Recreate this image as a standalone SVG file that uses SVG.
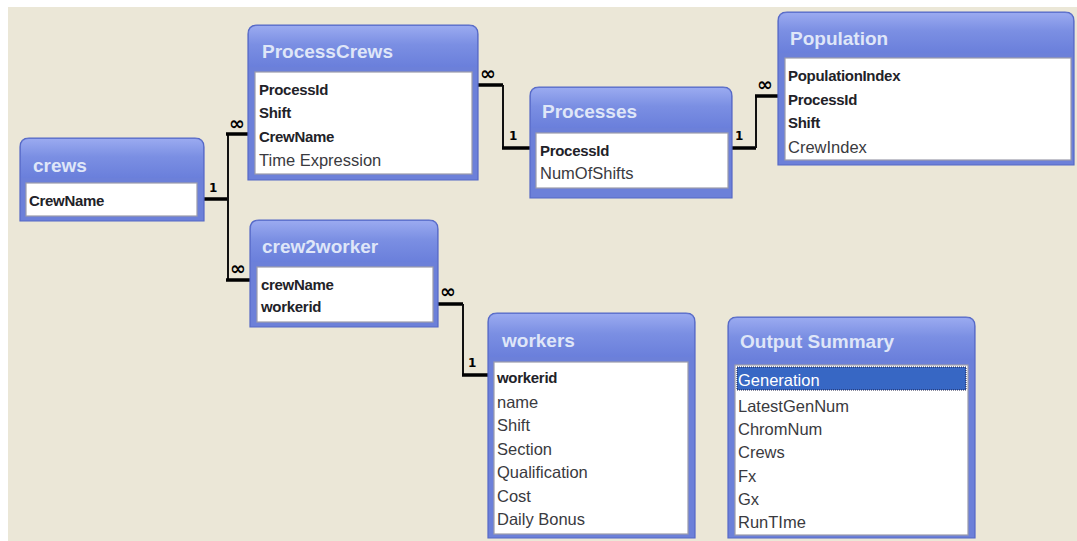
<svg xmlns="http://www.w3.org/2000/svg" width="1077" height="541" viewBox="0 0 1077 541">
<defs>
<linearGradient id="tb" x1="0" y1="0" x2="0" y2="1">
<stop offset="0" stop-color="#9aaaf0"/>
<stop offset="0.45" stop-color="#7b8fe3"/>
<stop offset="1" stop-color="#6a7fdb"/>
</linearGradient>
<style>
.frame{fill:#6c80d9;stroke:#5568c6;stroke-width:1.2}
.bar{fill:url(#tb)}
.list{fill:#ffffff;stroke:#9c9cab;stroke-width:1.2}
.title{font-family:"Liberation Sans",Arial,sans-serif;font-weight:bold;font-size:19px;fill:#dfe6f8}
.key{font-family:"Liberation Sans",Arial,sans-serif;font-weight:bold;font-size:15px;fill:#222228;letter-spacing:-0.3px}
.fld{font-family:"Liberation Sans",Arial,sans-serif;font-size:16.5px;fill:#3a3a40}
.sel{font-family:"Liberation Sans",Arial,sans-serif;font-size:16.5px;fill:#ffffff}
.thick{stroke:#000;stroke-width:3.5;fill:none}
.thin{stroke:#111;stroke-width:2;fill:none}
.one{font-family:"DejaVu Sans",sans-serif;font-weight:bold;font-size:12px;fill:#000}
.many{font-family:"DejaVu Sans",sans-serif;font-weight:bold;font-size:19px;fill:#000}
</style>
</defs>
<rect x="0" y="0" width="1077" height="541" fill="#ffffff"/>
<rect x="8" y="7" width="1069" height="534" fill="#ebe7d7"/>

<g id="connectors">
<!-- crews -> ProcessCrews -->
<path class="thick" d="M204,199 H228"/>
<path class="thin" d="M228,199 V134"/>
<path class="thick" d="M226,134 H248"/>
<text class="one" x="209" y="192">1</text>
<text class="many" x="229" y="130">∞</text>
<!-- crews -> crew2worker -->
<path class="thin" d="M228,199 V280"/>
<path class="thick" d="M226,280 H250"/>
<text class="many" x="230" y="275">∞</text>
<!-- ProcessCrews -> Processes -->
<path class="thick" d="M478,85 H503"/>
<path class="thin" d="M503,85 V148"/>
<path class="thick" d="M502,148 H530"/>
<text class="many" x="480" y="80">∞</text>
<text class="one" x="509" y="140">1</text>
<!-- Processes -> Population -->
<path class="thick" d="M732,148 H756"/>
<path class="thin" d="M756,148 V96"/>
<path class="thick" d="M755,96 H778"/>
<text class="one" x="735" y="140">1</text>
<text class="many" x="757" y="91">∞</text>
<!-- crew2worker -> workers -->
<path class="thick" d="M438,304 H463"/>
<path class="thin" d="M463,304 V375"/>
<path class="thick" d="M462,375 H488"/>
<text class="many" x="440" y="298">∞</text>
<text class="one" x="468" y="367">1</text>
</g>

<g id="crews">
<path class="frame" d="M20,221 V147 Q20,138 29,138 H195 Q204,138 204,147 V221 Z"/>
<path class="bar" d="M21,178 V147 Q21,139 29,139 H195 Q203,139 203,147 V178 Z"/>
<rect class="list" x="26" y="183" width="171" height="33"/>
<text class="title" x="33" y="172">crews</text>
<text class="key" x="29" y="206">CrewName</text>
</g>

<g id="ProcessCrews">
<path class="frame" d="M248,180 V34 Q248,25 257,25 H469 Q478,25 478,34 V180 Z"/>
<path class="bar" d="M249,67 V34 Q249,26 257,26 H469 Q477,26 477,34 V67 Z"/>
<rect class="list" x="255" y="72" width="217" height="102"/>
<text class="title" x="262" y="58">ProcessCrews</text>
<text class="key" x="259" y="95">ProcessId</text>
<text class="key" x="259" y="118">Shift</text>
<text class="key" x="259" y="142">CrewName</text>
<text class="fld" x="259" y="166">Time Expression</text>
</g>

<g id="Processes">
<path class="frame" d="M530,198 V96 Q530,87 539,87 H723 Q732,87 732,96 V198 Z"/>
<path class="bar" d="M531,128 V96 Q531,88 539,88 H723 Q731,88 731,96 V128 Z"/>
<rect class="list" x="536" y="133" width="192" height="55"/>
<text class="title" x="542" y="118">Processes</text>
<text class="key" x="540" y="156">ProcessId</text>
<text class="fld" x="540" y="179">NumOfShifts</text>
</g>

<g id="Population">
<path class="frame" d="M778,165 V21 Q778,12 787,12 H1065 Q1074,12 1074,21 V165 Z"/>
<path class="bar" d="M779,53 V21 Q779,13 787,13 H1065 Q1073,13 1073,21 V53 Z"/>
<rect class="list" x="785" y="58" width="286" height="102"/>
<text class="title" x="790" y="45">Population</text>
<text class="key" x="788" y="81">PopulationIndex</text>
<text class="key" x="788" y="105">ProcessId</text>
<text class="key" x="788" y="128">Shift</text>
<text class="fld" x="788" y="153">CrewIndex</text>
</g>

<g id="crew2worker">
<path class="frame" d="M250,327 V229 Q250,220 259,220 H429 Q438,220 438,229 V327 Z"/>
<path class="bar" d="M251,262 V229 Q251,221 259,221 H429 Q437,221 437,229 V262 Z"/>
<rect class="list" x="257" y="267" width="176" height="55"/>
<text class="title" x="262" y="253">crew2worker</text>
<text class="key" x="261" y="290">crewName</text>
<text class="key" x="261" y="312">workerid</text>
</g>

<g id="workers">
<path class="frame" d="M488,538 V322 Q488,313 497,313 H686 Q695,313 695,322 V538 Z"/>
<path class="bar" d="M489,357 V322 Q489,314 497,314 H686 Q694,314 694,322 V357 Z"/>
<rect class="list" x="494" y="362" width="194" height="172"/>
<text class="title" x="502" y="347">workers</text>
<text class="key" x="497" y="383">workerid</text>
<text class="fld" x="497" y="408">name</text>
<text class="fld" x="497" y="431">Shift</text>
<text class="fld" x="497" y="455">Section</text>
<text class="fld" x="497" y="478">Qualification</text>
<text class="fld" x="497" y="502">Cost</text>
<text class="fld" x="497" y="525">Daily Bonus</text>
</g>

<g id="OutputSummary">
<path class="frame" d="M728,538 V326 Q728,317 737,317 H966 Q975,317 975,326 V538 Z"/>
<path class="bar" d="M729,360 V326 Q729,318 737,318 H966 Q974,318 974,326 V360 Z"/>
<rect class="list" x="735" y="365" width="233" height="170"/>
<rect x="737" y="367" width="229" height="23" fill="#3767c4" stroke="#1a1a40" stroke-width="1" stroke-dasharray="1,1"/>
<text class="title" x="740" y="348">Output Summary</text>
<text class="sel" x="738" y="386">Generation</text>
<text class="fld" x="738" y="412">LatestGenNum</text>
<text class="fld" x="738" y="435">ChromNum</text>
<text class="fld" x="738" y="458">Crews</text>
<text class="fld" x="738" y="482">Fx</text>
<text class="fld" x="738" y="505">Gx</text>
<text class="fld" x="738" y="528">RunTIme</text>
</g>
</svg>
